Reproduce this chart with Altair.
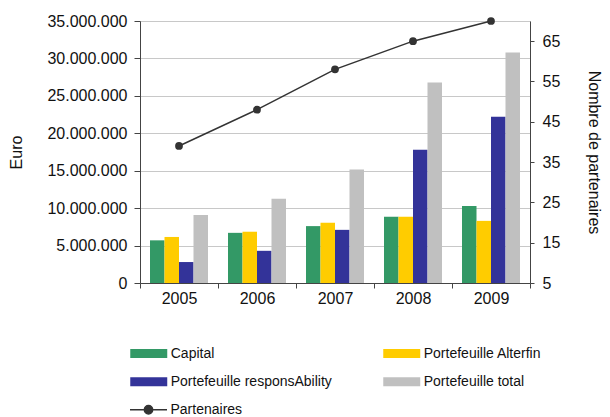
import altair as alt
import pandas as pd

years = ["2005", "2006", "2007", "2008", "2009"]
series = ["Capital", "Portefeuille Alterfin", "Portefeuille responsAbility", "Portefeuille total"]
capital = [5.7e6, 6.7e6, 7.6e6, 8.85e6, 10.3e6]
alterfin = [6.15e6, 6.85e6, 8.05e6, 8.85e6, 8.3e6]
responsability = [2.8e6, 4.3e6, 7.1e6, 17.8e6, 22.2e6]
total = [9.1e6, 11.25e6, 15.15e6, 26.8e6, 30.8e6]
partenaires = [39, 48, 58, 65, 70]
colors = ["#339966", "#FFCC00", "#333399", "#C0C0C0"]
euro_ticks = [0, 5e6, 10e6, 15e6, 20e6, 25e6, 30e6, 35e6]
part_ticks = [5, 15, 25, 35, 45, 55, 65]

rows = []
for name, vals in zip(series, [capital, alterfin, responsability, total]):
    for yr, v in zip(years, vals):
        rows.append({"year": yr, "series": name, "value": v})
bars_df = pd.DataFrame(rows)
line_df = pd.DataFrame({"year": years, "partenaires": partenaires, "lbl": ["Partenaires"] * 5})

FONT = "Liberation Sans"
TXT = "#111111"

x_enc = alt.X(
    "year:N", sort=years,
    scale=alt.Scale(paddingInner=0, paddingOuter=0),
    axis=alt.Axis(title=None, tickBand="extent", labelAngle=0, labelFont=FONT, labelFontSize=16,
                  labelColor=TXT, tickSize=5, labelPadding=2, domainColor="#444444",
                  tickColor="#444444", grid=False),
)

bars = alt.Chart(bars_df).mark_bar().encode(
    x=x_enc,
    xOffset=alt.XOffset("series:N", sort=series,
                        scale=alt.Scale(paddingInner=0, paddingOuter=0.69)),
    y=alt.Y("value:Q", scale=alt.Scale(domain=[0, 35e6], nice=False),
            axis=alt.Axis(title="Euro", values=euro_ticks,
                          labelExpr="replace(replace(format(datum.value, ','), ',', '.'), ',', '.')",
                          grid=True, gridColor="#c8c8c8", labelFont=FONT, labelFontSize=16,
                          labelColor=TXT, tickSize=6, labelPadding=7, domainColor="#444444",
                          tickColor="#444444", titleFont=FONT, titleFontSize=16,
                          titleFontWeight="normal", titleColor=TXT, titleX=-124, titleY=131,
                          titleAngle=270, titleBaseline="middle", titleAlign="center")),
    color=alt.Color("series:N", sort=series,
                    scale=alt.Scale(domain=series, range=colors),
                    legend=alt.Legend(title=None, orient="none", legendX=-10, legendY=322.75,
                                      direction="horizontal",
                                      columns=2, columnPadding=51, rowPadding=11.5,
                                      symbolType="M-2,-0.5H2V0.5H-2Z", symbolSize=342,
                                      symbolStrokeWidth=0, symbolOffset=9.25, labelOffset=12.5,
                                      labelFont=FONT, labelFontSize=14, labelColor=TXT,
                                      padding=0, labelLimit=300)),
)

y_right = alt.Y("partenaires:Q", scale=alt.Scale(domain=[5, 70], nice=False, zero=False),
                axis=alt.Axis(orient="right", title="Nombre de partenaires", values=part_ticks,
                              grid=False, labelFont=FONT, labelFontSize=16, labelColor=TXT,
                              tickSize=4, labelPadding=8, domainColor="#444444",
                              tickColor="#444444", titleFont=FONT, titleFontSize=16,
                              titleFontWeight="normal", titleColor=TXT, titleX=63, titleY=131,
                              titleAngle=90, titleBaseline="middle", titleAlign="center"))

leg2 = alt.Legend(title=None, orient="none", legendX=-10, legendY=378.75,
                  symbolType="M-2,0H2M-0.45,0A0.45,0.45 0 1,0 0.45,0A0.45,0.45 0 1,0 -0.45,0",
                  symbolSize=342, symbolStrokeWidth=1.5, symbolFillColor="#333333",
                  symbolStrokeColor="#333333", symbolOffset=8.5, labelOffset=12,
                  labelFont=FONT, labelFontSize=14, labelColor=TXT, padding=0)

line = alt.Chart(line_df).mark_line(strokeWidth=1.5).encode(
    x=x_enc,
    y=y_right,
    stroke=alt.Stroke("lbl:N", scale=alt.Scale(domain=["Partenaires"], range=["#333333"]),
                      legend=leg2),
)
points = alt.Chart(line_df).mark_point(filled=True, size=60, opacity=1, color="#333333").encode(
    x=x_enc,
    y=y_right,
)

chart = alt.layer(bars, alt.layer(line, points)).resolve_scale(y="independent").properties(
    width=390, height=262,
    autosize=alt.AutoSizeParams(type="none"),
    padding={"left": 132, "top": 13, "right": 72, "bottom": 134},
).configure_view(stroke="#8c8c8c", strokeWidth=1).configure(background="white")

chart.save("out.html", embed_options={"renderer": "svg", "actions": False})
